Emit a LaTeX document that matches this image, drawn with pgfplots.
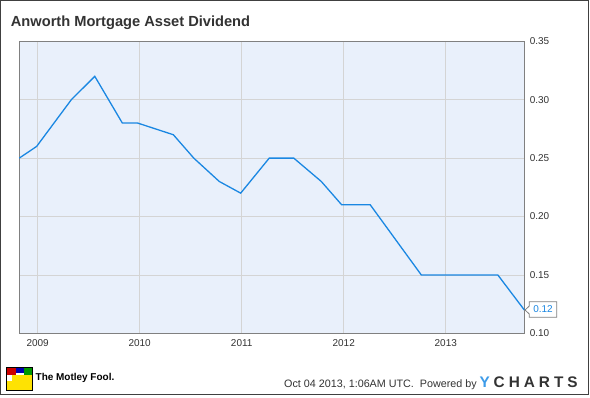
\documentclass[border=0pt]{standalone}
\usepackage{pgfplots}
\pgfplotsset{compat=1.18}
\usepackage{fontspec}
\setmainfont{Liberation Sans}
\definecolor{bgblue}{HTML}{E9F0FB}
\definecolor{lineblue}{HTML}{1A87E2}
\definecolor{gridgray}{HTML}{D4D4D4}
\definecolor{framegray}{HTML}{808080}
\definecolor{txtgray}{HTML}{333333}
\definecolor{ychblue}{HTML}{3D9BE9}
\definecolor{border}{HTML}{404040}
\pgfplotstableread{
year div
2008.82 0.25
2008.99 0.26
2009.33 0.30
2009.56 0.32
2009.83 0.28
2009.98 0.28
2010.33 0.27
2010.53 0.25
2010.78 0.23
2010.99 0.22
2011.27 0.25
2011.51 0.25
2011.78 0.23
2011.98 0.21
2012.26 0.21
2012.76 0.15
2013.51 0.15
2013.77 0.12
}\divdata
\begin{document}
\begin{tikzpicture}[x=1bp,y=1bp]
\useasboundingbox (0,0) rectangle (590,397);
\fill[white] (0,0) rectangle (590,397);
\begin{axis}[
  at={(19.3bp,63.7bp)}, anchor=south west,
  scale only axis, width=505bp, height=292bp,
  xmin=2008.82, xmax=2013.77, ymin=0.10, ymax=0.35,
  axis background/.style={fill=bgblue},
  axis line style={framegray, line width=0.8bp},
  grid=major, major grid style={gridgray, line width=0.8bp},
  xtick={2009,2010,2011,2012,2013},
  ytick={0.10,0.15,0.20,0.25,0.30,0.35},
  yticklabel pos=right,
  tick style={draw=none},
  /pgf/number format/assume math mode=true,
  /pgf/number format/1000 sep={},
  x tick label style={font=\fontsize{10}{12}\selectfont, text=txtgray, yshift=-2.5bp},
  y tick label style={font=\fontsize{10}{12}\selectfont, text=txtgray, xshift=2bp,
     /pgf/number format/fixed, /pgf/number format/fixed zerofill,
     /pgf/number format/precision=2},
  clip=false,
]
\addplot[lineblue, line width=1.3bp, mark=none] table[x=year, y=div] {\divdata};
\end{axis}
% value callout
\draw[framegray, line width=0.8bp, fill=white] (525,87) -- (529.3,91) -- (529.3,95.3) -- (556.7,95.3) -- (556.7,79.7) -- (529.3,79.7) -- (529.3,83) -- cycle;
\node[anchor=center, text=lineblue, font=\fontsize{10}{12}\selectfont, inner sep=0] at (543,87.5) {0.12};
% title
\node[anchor=base west, inner sep=0, text=txtgray, font=\fontsize{14.7}{16}\selectfont\bfseries] at (10.7,371) {Anworth Mortgage Asset Dividend};
% Motley Fool logo (approximation)
\fill[white] (6,7) rectangle (32.7,29.7);
\fill[yellow!85!orange] (12,7.5) rectangle (32.2,22);
\fill[red!80!black] (7,22) rectangle (16,29.2);
\fill[blue!70!black] (16,24) rectangle (24,29.2);
\fill[green!60!black] (24,22) rectangle (32.2,29.2);
\fill[yellow!85!orange] (6.5,7.5) rectangle (12,16);
\draw[black, line width=0.8bp] (6,7) rectangle (32.7,29.7);
\node[anchor=base west, inner sep=0, font=\fontsize{10}{11}\selectfont\bfseries] at (35.5,17) {The Motley Fool.};
% footer
\node[anchor=base west, inner sep=0, text=txtgray, font=\fontsize{10.8}{12}\selectfont] at (284,9.3) {Oct 04 2013, 1:06AM UTC.~ Powered by};
\node[anchor=base west, inner sep=0, font=\fontsize{15.4}{17}\selectfont\bfseries] at (479.3,9.3) {\textcolor{ychblue}{Y}\kern4bp\textcolor{txtgray}{C\kern4bp H\kern4bp A\kern4bp R\kern4bp T\kern4bp S}};
% frame
\draw[border, line width=1.2bp] (0.6,2.6) rectangle (588.4,396.4);
\end{tikzpicture}
\end{document}
